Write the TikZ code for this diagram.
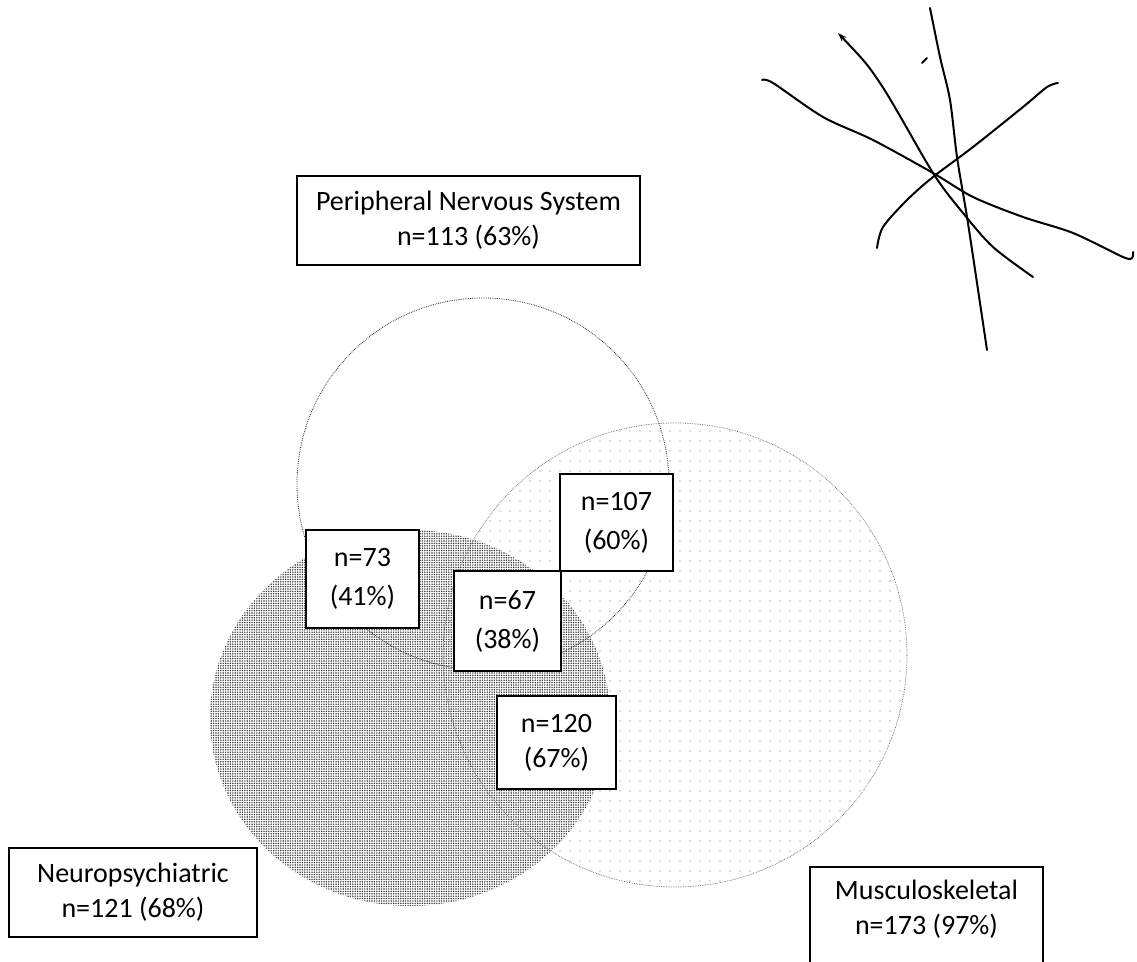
\documentclass[tikz,border=0pt]{standalone}
\usepackage{fontspec}
\setmainfont{Carlito}
\usetikzlibrary{patterns.meta,arrows.meta}

\tikzset{
  cellbox/.style={draw, line width=2pt, fill=white, align=center, inner sep=0pt,
    font=\fontsize{28}{35}\selectfont},
  pencil/.style={line width=2pt, line cap=round, line join=round},
}

\begin{document}
\begin{tikzpicture}[x=1pt, y=-1pt]
\useasboundingbox (0,0) rectangle (1137,961);
\clip (0,0) rectangle (1137,961);

% Vùng Musculoskeletal (chấm thưa) và Neuropsychiatric (chấm dày)
\fill[pattern={Dots[distance=10pt,radius=0.6pt]}, pattern color=black!55] (675,655) circle[radius=232pt];
\fill[pattern={Dots[distance=2.4pt,radius=0.8pt]}, pattern color=black!80] (410,718) ellipse[x radius=200pt, y radius=188pt];

% Đường viền các hình tròn
\draw[densely dotted, line width=0.7pt, black!60] (675,655) circle[radius=232pt];
\draw[densely dotted, line width=0.8pt, black!80] (483,484) circle[radius=186pt];

% Các ô số liệu
\node[cellbox, minimum width=343pt, minimum height=89pt] (pns) at (468.5,220.5) {Peripheral Nervous System\\n=113 (63\%)};
\node[cellbox, minimum width=113pt, minimum height=98pt] (n73) at (362.5,579) {n=73\\[4pt](41\%)};
\node[cellbox, minimum width=113pt, minimum height=97pt] (n107) at (616.5,522.5) {n=107\\[4pt](60\%)};
\node[cellbox, minimum width=107pt, minimum height=100pt] (n67) at (507.5,621) {n=67\\[4pt](38\%)};
\node[cellbox, minimum width=119pt, minimum height=93pt] (n120) at (556.5,742.5) {n=120\\(67\%)};
\node[cellbox, minimum width=248pt, minimum height=89pt] (neuro) at (133,892.5) {Neuropsychiatric\\n=121 (68\%)};
\node[cellbox, minimum width=233pt, minimum height=100pt, text depth=19pt] (musc) at (926.5,917) {Musculoskeletal\\n=173 (97\%)};

% Nét vẽ tay góc trên bên phải
\draw[pencil, {Stealth[length=9pt,width=6pt]}-] plot[smooth] coordinates {(838,33) (880,83) (933,173) (963,213) (993,247) (1033,277)};
\draw[pencil] plot[smooth] coordinates {(930,8) (940,57) (950,100) (957,157) (967,217) (977,283) (987,350)};
\draw[pencil] plot[smooth] coordinates {(762,80) (773,83) (823,117) (873,140) (933,173) (973,197) (1023,217) (1073,233) (1123,257) (1132,258) (1133,252)};
\draw[pencil] plot[smooth] coordinates {(877,248) (883,227) (907,200) (933,177) (973,147) (1023,107) (1047,87) (1058,83)};
\draw[pencil] (922,63) -- (927,58);
\end{tikzpicture}
\end{document}
